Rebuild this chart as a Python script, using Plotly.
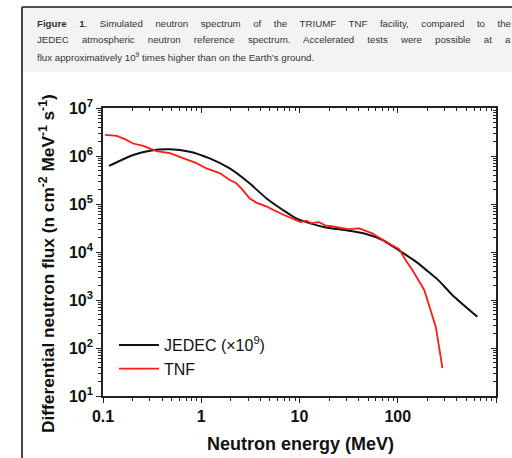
import plotly.graph_objects as go

# JEDEC atmospheric reference spectrum (scaled by 1e9)
jedec_energy = [0.115, 0.203, 0.30, 0.479, 0.764, 1.22, 1.95, 3.10, 4.59, 6.78, 9.25,
                12.6, 18.6, 30.9, 47.5, 70.1, 103.5, 153, 225, 263, 361, 646]
jedec_flux = [6.2e5, 1.05e6, 1.29e6, 1.38e6, 1.23e6, 8.9e5, 5.5e5, 2.7e5, 1.32e5, 7.5e4, 5.0e4,
              4.0e4, 3.24e4, 2.8e4, 2.37e4, 1.78e4, 1.07e4, 6.3e3, 3.3e3, 2.5e3, 1.26e3, 447]

# Simulated TRIUMF TNF spectrum
tnf_energy = [0.105, 0.122, 0.138, 0.167, 0.203, 0.257, 0.35, 0.479, 0.653, 0.893, 1.13, 1.54,
              1.95, 2.28, 2.65, 3.10, 3.63, 4.59, 6.27, 8.55, 10.2, 11.7, 13.1, 15.8, 18.2, 21.8,
              30.9, 40.7, 55.0, 75.9, 103.5, 120, 141, 186, 217, 244, 263, 285]
tnf_flux = [2.75e6, 2.72e6, 2.63e6, 2.24e6, 1.82e6, 1.62e6, 1.26e6, 1.15e6, 8.9e5, 7.1e5, 5.5e5, 4.4e5,
            3.16e5, 2.7e5, 1.95e5, 1.32e5, 1.07e5, 8.9e4, 6.5e4, 4.8e4, 4.2e4, 4.5e4, 4.0e4, 4.2e4,
            3.6e4, 3.4e4, 3.0e4, 3.1e4, 2.45e4, 1.62e4, 1.15e4, 6.8e3, 4.2e3, 1.62e3, 6.2e2, 2.75e2,
            1.07e2, 38]

x_ticks = [0.1, 1, 10, 100, 1000]
x_labels = ["0.1", "1", "10", "100", "1000"]
y_ticks = [1e1, 1e2, 1e3, 1e4, 1e5, 1e6, 1e7]
y_labels = [f"10<sup>{k}</sup>" for k in range(1, 8)]

caption_lines = [
    "<b>Figure 1</b>. Simulated neutron spectrum of the TRIUMF TNF facility, compared to the",
    "JEDEC atmospheric neutron reference spectrum. Accelerated tests were possible at a",
    "flux approximatively 10<sup>9</sup> times higher than on the Earth\u2019s ground.",
]

FONT = "Arial, 'Liberation Sans', sans-serif"
AX = "#222222"

# plot-area pixel geometry used for paper-coordinate placement
L, R, T, B = 103, 496, 108, 396
W, H = R - L, B - T


def px(x):
    return (x - L) / W


def py(y):
    return (B - y) / H


minor_x = [m * 10 ** d for d in range(-1, 3) for m in range(2, 10)]
minor_y = [m * 10 ** d for d in range(1, 7) for m in range(2, 10)]

fig = go.Figure()
fig.add_trace(go.Scatter(x=jedec_energy, y=jedec_flux, mode="lines", name="JEDEC (\u00d710<sup>9</sup>)",
                         line=dict(color="#111111", width=2, shape="spline", smoothing=0.6)))
fig.add_trace(go.Scatter(x=tnf_energy, y=tnf_flux, mode="lines", name="TNF",
                         line=dict(color="#ff1a1a", width=1.8)))
# empty trace that carries the mirrored top/right axes
fig.add_trace(go.Scatter(x=[], y=[], xaxis="x2", yaxis="y2", showlegend=False, hoverinfo="skip"))

axis_common = dict(type="log", showline=True, linecolor=AX, linewidth=1.6, showgrid=False,
                   zeroline=False, tickcolor=AX, tickwidth=1.2)

fig.update_layout(
    width=512, height=458,
    margin=dict(l=L, r=512 - R, t=T, b=458 - B),
    paper_bgcolor="white", plot_bgcolor="white",
    font=dict(family=FONT, color="#111111"),
    xaxis=dict(**axis_common, range=[-1, 3], tickmode="array", tickvals=x_ticks, ticktext=x_labels,
               ticks="outside", ticklen=5,
               tickfont=dict(size=16, weight="bold", color="#111111"),
               minor=dict(tickmode="array", tickvals=minor_x, ticks="outside", ticklen=3,
                          tickcolor=AX, tickwidth=1, showgrid=False)),
    yaxis=dict(**axis_common, range=[1, 7], tickmode="array", tickvals=y_ticks, ticktext=y_labels,
               ticks="outside", ticklen=5,
               tickfont=dict(size=16, weight="bold", color="#111111"),
               minor=dict(tickmode="array", tickvals=minor_y, ticks="outside", ticklen=3,
                          tickcolor=AX, tickwidth=1, showgrid=False)),
    xaxis2=dict(**axis_common, range=[-1, 3], overlaying="x", side="top", showticklabels=False,
                tickmode="array", tickvals=x_ticks, ticks="inside", ticklen=5,
                minor=dict(tickmode="array", tickvals=minor_x, ticks="inside", ticklen=3,
                           tickcolor=AX, tickwidth=1, showgrid=False)),
    yaxis2=dict(**axis_common, range=[1, 7], overlaying="y", side="right", showticklabels=False,
                tickmode="array", tickvals=y_ticks, ticks="inside", ticklen=5,
                minor=dict(tickmode="array", tickvals=minor_y, ticks="inside", ticklen=3,
                           tickcolor=AX, tickwidth=1, showgrid=False)),
    legend=dict(x=px(114), y=py(386), xanchor="left", yanchor="bottom",
                bgcolor="rgba(0,0,0,0)", font=dict(size=16, color="#111111"),
                tracegroupgap=0, itemwidth=40),
    showlegend=True,
)

# caption panel and page frame
fig.add_shape(type="rect", xref="paper", yref="paper", x0=px(22), x1=px(530), y0=py(72), y1=py(7),
              fillcolor="#f3f3f3", line=dict(width=0), layer="below")
fig.add_shape(type="line", xref="paper", yref="paper", x0=px(22), x1=px(530), y0=py(7), y1=py(7),
              line=dict(color="#1a1a1a", width=1.6))
fig.add_shape(type="line", xref="paper", yref="paper", x0=px(22), x1=px(22), y0=py(7), y1=py(470),
              line=dict(color="#1a1a1a", width=1.6))

for i, (line, yc) in enumerate(zip(caption_lines, [23, 40, 57])):
    fig.add_annotation(text=line, xref="paper", yref="paper", x=px(35), y=py(yc),
                       xanchor="left", yanchor="middle", showarrow=False,
                       font=dict(size=9.7, color="#333333", family=FONT))

# axis titles
fig.add_annotation(text="<b>Neutron energy (MeV)</b>", xref="paper", yref="paper",
                   x=px(300), y=py(444), xanchor="center", yanchor="middle", showarrow=False,
                   font=dict(size=18, color="#111111"))
fig.add_annotation(text="<b>Differential neutron flux (n cm<sup>-2</sup> MeV<sup>-1</sup> s<sup>-1</sup>)</b>",
                   xref="paper", yref="paper", x=px(47), y=py(264), textangle=-90,
                   xanchor="center", yanchor="middle", showarrow=False,
                   font=dict(size=17.3, color="#111111"))

# justify the first two caption lines, keeping their left edge in place
justify_js = """
var gd = document.getElementById('{plot_id}');
[0, 1].forEach(function(i) {
  var t = gd.querySelector('g.annotation[data-index="' + i + '"] text.annotation-text');
  if (!t) return;
  var n = (t.textContent.match(/ /g) || []).length;
  var b0 = t.getBBox();
  var target = 474;
  if (n > 0 && b0.width < target) {
    t.style.wordSpacing = ((target - b0.width) / n) + 'px';
    var b1 = t.getBBox();
    var prev = t.getAttribute('transform') || '';
    t.setAttribute('transform', prev + ' translate(' + (b0.x - b1.x) + ',0)');
  }
});
"""

fig.write_html("out.html", post_script=justify_js)
